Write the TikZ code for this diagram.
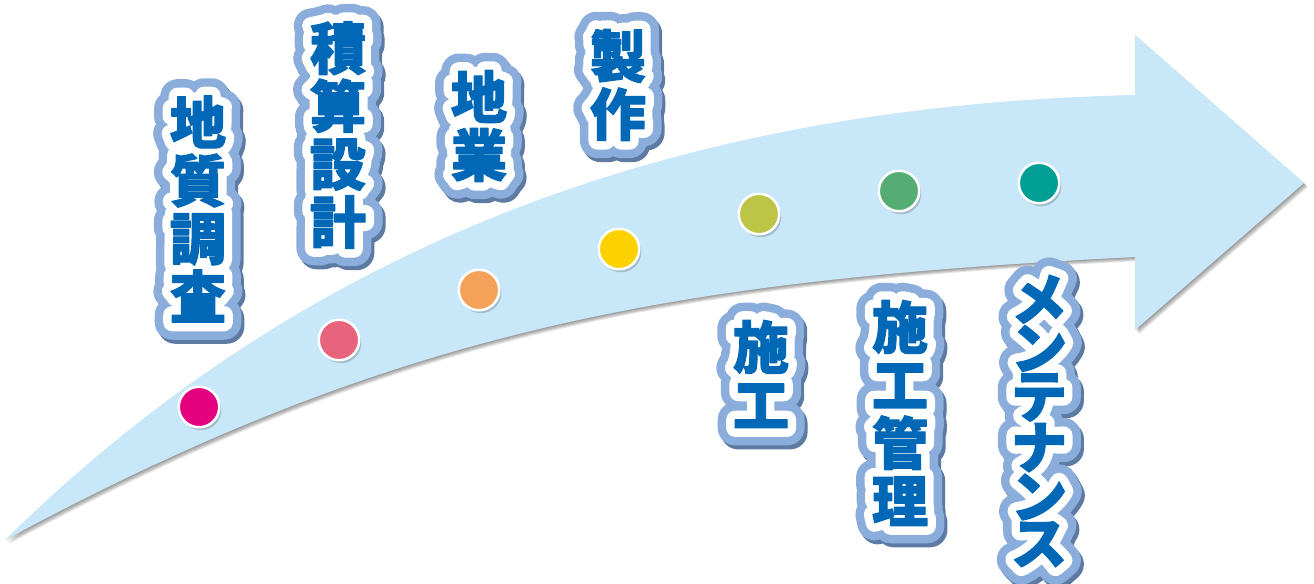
\documentclass[tikz,border=0pt]{standalone}
\usepackage{fontspec}
\newfontfamily\jpfont{Noto Sans CJK JP}
\usetikzlibrary{calc, positioning}
\definecolor{arrowFill}{HTML}{C8E7F8}
\definecolor{tagBlue}{HTML}{0068B7}
\definecolor{tagEdge}{HTML}{8AADDB}
\definecolor{tagShadow}{HTML}{5C7AA2}
\definecolor{dotA}{HTML}{E4007F}
\definecolor{dotB}{HTML}{E8647C}
\definecolor{dotC}{HTML}{F4A25A}
\definecolor{dotD}{HTML}{FDD000}
\definecolor{dotE}{HTML}{BDC547}
\definecolor{dotF}{HTML}{55AD75}
\definecolor{dotG}{HTML}{009E93}
\tikzset{
    tagText/.style={align=center, inner sep=0pt, font=\jpfont\bfseries\fontsize{32pt}{33pt}\selectfont\addfontfeature{FakeBold=#1}},
    tagKana/.style={tagText, font=\jpfont\bfseries\fontsize{32pt}{26.5pt}\selectfont\addfontfeature{FakeBold=#1}},
    dotMark/.style={circle, draw=white, line width=1.4pt, minimum size=0.81cm, inner sep=0pt},
}
\newcommand{\drawTag}[4][tagText]{
    % shadow, outer edge, white edge, text
    \node[#1=62, text=tagShadow] (#2s) at ($(#3)+(3,4)$) {#4};
    \node[#1=62, text=tagEdge] (#2e) at (#3) {#4};
    \node[#1=32, text=white] (#2w) at (#3) {#4};
    \node[#1=2, text=tagBlue] (#2) at (#3) {#4};
}
\newcommand{\drawDot}[3]{
    \node[dotMark, draw=none, fill=black, opacity=0.18] (#1s) at ($(#2)+(2,3)$) {};
    \node[dotMark, fill=#3] (#1) at (#2) {};
}

\begin{document}
\begin{tikzpicture}[x=0.02cm, y=-0.02cm, line join=round]
    \useasboundingbox (0,0) rectangle (1314,584);

    % arrow
    \foreach \d in {1,...,4}
        \fill[black, opacity=0.11, shift={(\d,\d)}] (5,540) .. controls (320,230) and (700,105) .. (1135,95)
            -- (1135,35) -- (1304,183) -- (1135,330) -- (1135,257)
            .. controls (685,280) and (405,324) .. (5,540) -- cycle;
    \fill[arrowFill] (5,540) .. controls (320,230) and (700,105) .. (1135,95)
        -- (1135,35) -- (1304,183) -- (1135,330) -- (1135,257)
        .. controls (685,280) and (405,324) .. (5,540) -- cycle;

    \drawDot{d1}{199,407}{dotA}
    \drawDot{d2}{339,340}{dotB}
    \drawDot{d3}{479,290}{dotC}
    \drawDot{d4}{619,249}{dotD}
    \drawDot{d5}{759,214}{dotE}
    \drawDot{d6}{899,191}{dotF}
    \drawDot{d7}{1039,183}{dotG}

    \drawTag{t1}{198,209}{地\\質\\調\\査}
    \drawTag{t2}{338,135}{積\\算\\設\\計}
    \drawTag{t3}{479,126}{地\\業}
    \drawTag{t4}{618,85}{製\\作}
    \drawTag{t5}{761,374}{施\\工}
    \drawTag{t6}{900,413}{施\\工\\管\\理}
    \drawTag[tagKana]{t7}{1039,421}{メ\\ン\\テ\\ナ\\ン\\ス}

\end{tikzpicture}
\end{document}
